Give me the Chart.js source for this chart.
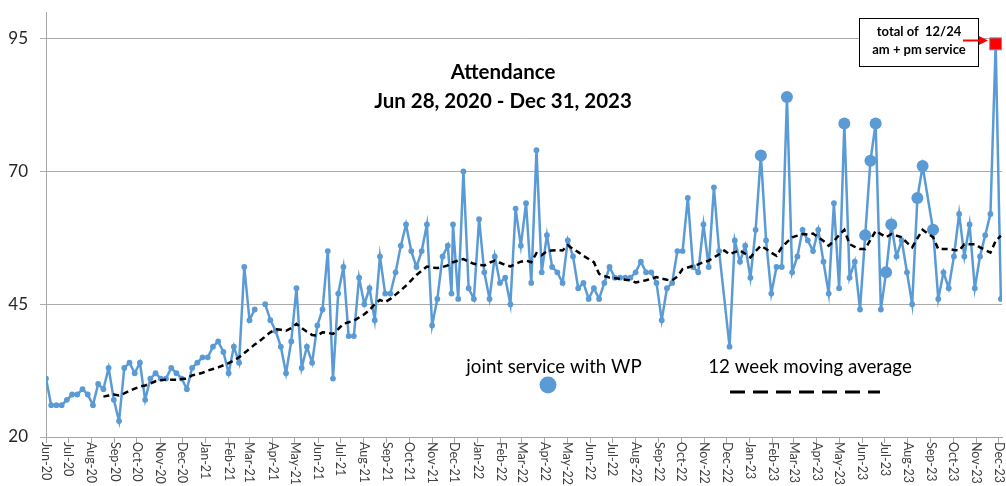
<!DOCTYPE html>
<html>
<head>
<meta charset="utf-8">
<script src="https://cdn.jsdelivr.net/npm/chart.js@4.4.1/dist/chart.umd.min.js"></script>
<style>
  html, body { margin: 0; padding: 0; background: #fff; }
</style>
</head>
<body>
<canvas id="attendance" width="1006" height="486"></canvas>
<script>
// one value per Sunday, starting Jun 28, 2020 (null = no count, line is broken)
const attendance = [
  31, 26, 26, 26, 27, 28, 28, 29, 28, 26,
  30, 29, 33, 27, 23, 33, 34, 32, 34, 27,
  31, 32, 31, 31, 33, 32, 31, 29, 33, 34,
  35, 35, 37, 38, 36, 32, 37, 34, 52, 42,
  44, null, 45, 42, 40, 37, 32, 38, 48, 33,
  37, 34, 41, 44, 55, 31, 47, 52, 39, 39,
  50, 45, 48, 42, 54, 47, 47, 51, 56, 60,
  55, 52, 55, 60, 41, 46, 54, 56, 60, 46,
  70, 48, 46, 61, 51, 46, 54, 49, 50, 45,
  63, 56, 64, 49, 74, 51, 58, 52, 51, 49,
  57, 54, 48, 49, 46, 48, 46, 49, 52, 50,
  50, 50, 50, 51, 53, 51, 51, 49, 42, 48,
  49, 55, 55, 65, 52, 51, 60, 52, 67, 55,
  null, 37, 57, 53, 56, 50, 59, 73, 57, 47,
  52, 52, 84, 51, 54, 59, 57, 55, 59, 53,
  47, 64, 48, 79, 50, 53, 44, 58, 72, 79,
  44, 51, 60, 54, 57, 51, 45, 65, 71, null,
  59, 46, 51, 48, 54, 62, 54, 60, 48, 54,
  58, 62, 94, 46
];
// weeks that have no row at all (the line runs straight across them)
const noRowWeeks = [130, 169];
// mid-week service
const extraDates = ['2021-12-24'];
const extraValues = [47];
// weeks that were a joint service with WP (large markers)
const jointWeeks = [137, 142, 153, 157, 158, 159, 161, 162, 167, 168, 170];
// 12/24/2023: total of am + pm service
const totalWeek = 182;

// 12 week moving average (starts at the 12th week)
const movingAvg = [
  null, null, null, null, null, null, null, null, null, null, null,
  27.6, 27.8, 28.0, 27.8, 28.2, 28.7, 29.1, 29.5, 29.7,
  30.1, 30.5, 30.7, 30.8, 30.8, 30.8, 30.9, 31.0, 31.6, 31.8,
  32.1, 32.5, 32.8, 33.1, 33.5, 33.9, 34.4, 35.0, 35.8, 36.6,
  37.4, 38.1, 38.9, 39.7, 40.3, 40.2, 40.0, 40.5, 41.3, 40.5,
  39.8, 39.2, 39.1, 39.7, 39.6, 39.4, 40.3, 41.3, 41.6, 41.9,
  42.5, 43.1, 43.9, 45.0, 45.8, 45.4, 46.0, 46.8, 47.6, 48.5,
  49.5, 50.5, 51.3, 52.1, 51.9, 51.8, 52.0, 52.3, 52.9, 53.2,
  53.5, 53.0, 52.6, 52.4, 52.3, 52.8, 53.2, 52.8, 52.4, 52.1,
  52.6, 53.0, 53.2, 52.9, 54.6, 54.2, 55.0, 55.1, 55.2, 55.1,
  56.1, 55.4, 54.8, 54.1, 53.5, 52.9, 50.7, 50.3, 50.0, 49.9,
  49.8, 49.6, 49.5, 49.1, 49.3, 49.5, 49.8, 50.1, 49.8, 49.6,
  49.5, 50.2, 51.6, 51.9, 52.2, 52.5, 52.9, 53.2, 53.8, 54.4,
  55.1, 54.4, 54.8, 55.1, 54.5, 53.8, 55.0, 56.0, 55.4, 54.7,
  54.1, 55.7, 56.7, 57.6, 57.9, 58.2, 58.1, 58.3, 57.6, 56.9,
  56.0, 56.9, 58.0, 59.0, 56.3, 55.8, 55.4, 55.4, 57.1, 58.8,
  58.2, 57.6, 58.2, 57.9, 57.6, 56.6, 55.7, 57.4, 59.0, 58.3,
  57.6, 55.4, 55.4, 55.4, 55.2, 55.1, 56.3, 56.3, 56.3, 55.7,
  55.2, 54.7, 56.9, 57.9
];

const monthLabels = [
  'Jun-20', 'Jul-20', 'Aug-20', 'Sep-20', 'Oct-20', 'Nov-20', 'Dec-20',
  'Jan-21', 'Feb-21', 'Mar-21', 'Apr-21', 'May-21', 'Jun-21', 'Jul-21', 'Aug-21', 'Sep-21', 'Oct-21', 'Nov-21', 'Dec-21',
  'Jan-22', 'Feb-22', 'Mar-22', 'Apr-22', 'May-22', 'Jun-22', 'Jul-22', 'Aug-22', 'Sep-22', 'Oct-22', 'Nov-22', 'Dec-22',
  'Jan-23', 'Feb-23', 'Mar-23', 'Apr-23', 'May-23', 'Jun-23', 'Jul-23', 'Aug-23', 'Sep-23', 'Oct-23', 'Nov-23', 'Dec-23'
];
const yTicks = [20, 45, 70, 95];

const BLUE = '#5B9BD5';
const DAY = 864e5;
const start = Date.UTC(2020, 5, 28);
const dayOf = (s) => {
  const [y, m, d] = s.split('-').map(Number);
  return (Date.UTC(y, m - 1, d) - start) / DAY;
};

// build the {x, y} points (x = days since Jun 28, 2020)
const attendancePts = [];
attendance.forEach((v, k) => {
  if (noRowWeeks.includes(k)) return;
  attendancePts.push({ x: k * 7, y: v, week: k });
});
extraDates.forEach((d, i) => attendancePts.push({ x: dayOf(d), y: extraValues[i], week: -1 }));
attendancePts.sort((a, b) => a.x - b.x);

const avgPts = movingAvg.map((v, k) => ({ x: k * 7, y: v })).filter(p => p.y !== null);

// tick at the 28th of every month, like the original date axis
const monthTickDays = monthLabels.map((_, i) => (Date.UTC(2020, 5 + i, 28) - start) / DAY);

const FONT = 'Lato, "Liberation Sans", sans-serif';

const overlay = {
  id: 'overlay',
  afterDraw(chart) {
    const { ctx, scales: { x } } = chart;
    ctx.save();

    // month labels, reading downward
    ctx.font = '12.5px ' + FONT;
    ctx.fillStyle = '#404040';
    ctx.textAlign = 'left';
    ctx.textBaseline = 'middle';
    monthTickDays.forEach((d, i) => {
      ctx.save();
      ctx.translate(x.getPixelForValue(d), 442);
      ctx.rotate(Math.PI / 2);
      ctx.fillText(monthLabels[i], 0, 0);
      ctx.restore();
    });

    // title
    ctx.fillStyle = '#000';
    ctx.textAlign = 'center';
    ctx.font = 'bold 20.5px ' + FONT;
    ctx.fillText('Attendance', 503, 72);
    ctx.fillText('Jun 28, 2020 - Dec 31, 2023', 503, 101);

    // legend texts
    ctx.font = '18.7px ' + FONT;
    ctx.fillText('joint service with WP', 554, 367);
    ctx.fillText('12 week moving average', 810, 367);

    ctx.beginPath();
    ctx.arc(548, 385, 8.5, 0, Math.PI * 2);
    ctx.fillStyle = BLUE;
    ctx.fill();

    ctx.beginPath();
    ctx.setLineDash([15, 8]);
    ctx.lineWidth = 3;
    ctx.strokeStyle = '#000';
    ctx.moveTo(730, 392);
    ctx.lineTo(880, 392);
    ctx.stroke();
    ctx.setLineDash([]);

    // note box
    ctx.fillStyle = '#fff';
    ctx.fillRect(859, 18, 119, 48);
    ctx.lineWidth = 1;
    ctx.strokeStyle = '#000';
    ctx.strokeRect(859.5, 18.5, 119, 48);
    ctx.fillStyle = '#000';
    ctx.font = 'bold 13px ' + FONT;
    ctx.fillText('total of  12/24', 919, 32);
    ctx.fillText('am + pm service', 919, 50);

    // red arrow
    ctx.strokeStyle = '#FF0000';
    ctx.fillStyle = '#FF0000';
    ctx.lineWidth = 2;
    ctx.beginPath();
    ctx.moveTo(963, 40.5);
    ctx.lineTo(981, 40.5);
    ctx.stroke();
    ctx.beginPath();
    ctx.moveTo(988, 40.5);
    ctx.lineTo(979, 36);
    ctx.lineTo(979, 45);
    ctx.closePath();
    ctx.fill();

    ctx.restore();
  }
};

const isJoint = (c) => c.raw && jointWeeks.includes(c.raw.week);
const isTotal = (c) => c.raw && c.raw.week === totalWeek;

new Chart(document.getElementById('attendance'), {
  type: 'line',
  data: {
    datasets: [
      {
        label: '12 week moving average',
        data: avgPts,
        borderColor: '#000',
        borderWidth: 2.5,
        borderDash: [6, 4],
        pointRadius: 0,
        fill: false
      },
      {
        label: 'Attendance',
        data: attendancePts,
        borderColor: BLUE,
        borderWidth: 2.5,
        spanGaps: false,
        pointStyle: (c) => isTotal(c) ? 'rect' : 'circle',
        pointRadius: (c) => isTotal(c) ? 8.5 : isJoint(c) ? 6 : 2.9,
        pointBackgroundColor: (c) => isTotal(c) ? '#FF0000' : BLUE,
        pointBorderColor: BLUE,
        pointBorderWidth: (c) => isTotal(c) ? 1 : 0,
        fill: false
      }
    ]
  },
  options: {
    responsive: false,
    animation: false,
    layout: { padding: { top: 12, left: 0, right: 0, bottom: 0 } },
    plugins: { legend: { display: false }, tooltip: { enabled: false } },
    scales: {
      x: {
        type: 'linear',
        min: 0,
        max: 1282.5,
        afterBuildTicks: (s) => { s.ticks = monthTickDays.map(v => ({ value: v })); },
        afterFit: (s) => { s.height = 49; s.paddingLeft = 0; s.paddingRight = 0; },
        ticks: { display: false },
        grid: { drawOnChartArea: false, drawTicks: true, tickLength: 6, color: '#A6A6A6' },
        border: { color: '#A6A6A6', width: 1 }
      },
      y: {
        min: 20,
        max: 100,
        afterBuildTicks: (s) => { s.ticks = yTicks.map(v => ({ value: v })); },
        afterFit: (s) => { s.width = 46; s.paddingTop = 0; s.paddingBottom = 0; },
        ticks: { font: { size: 17, family: FONT }, color: '#262626', padding: 12 },
        grid: { color: '#ABABAB', lineWidth: 1, tickLength: 6 },
        border: { color: '#A6A6A6', width: 1 }
      }
    }
  },
  plugins: [overlay]
});
</script>
</body>
</html>
